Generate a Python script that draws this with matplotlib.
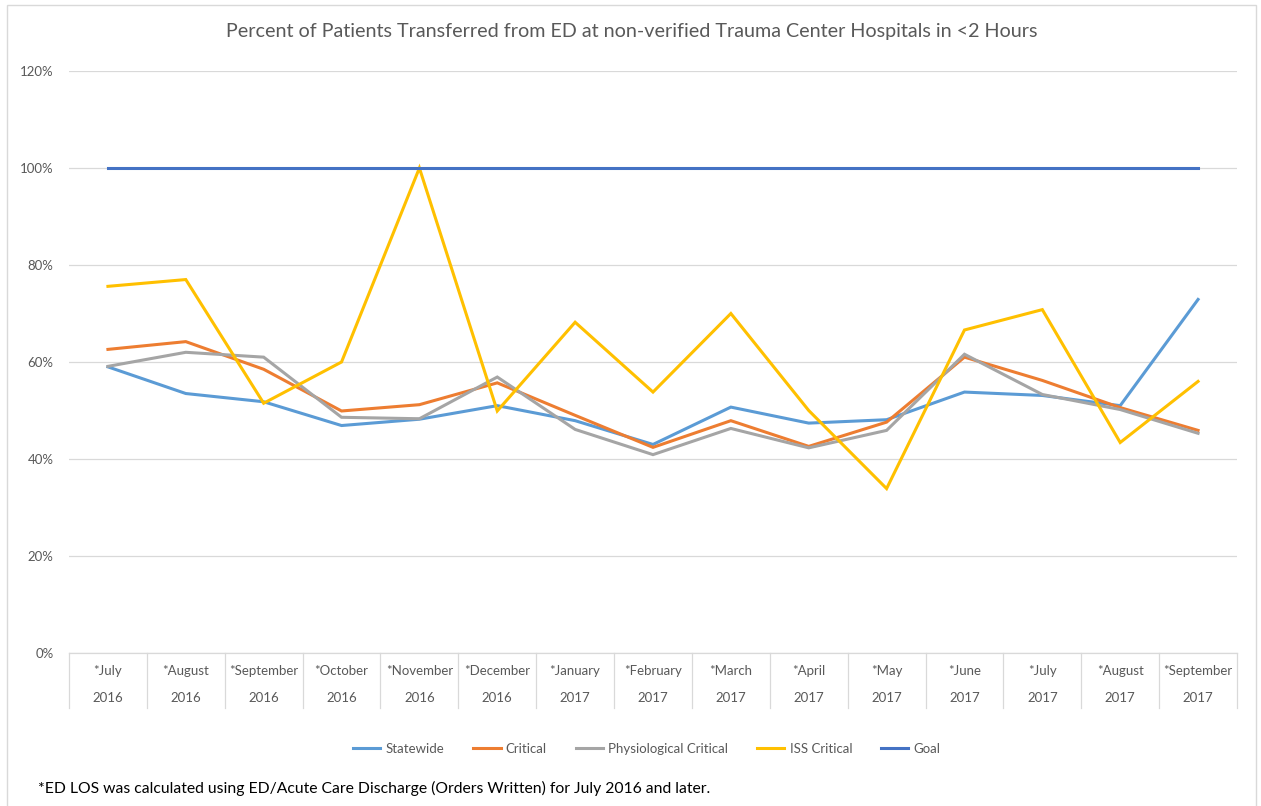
import matplotlib.pyplot as plt
from matplotlib.lines import Line2D
from matplotlib.patches import Rectangle
from matplotlib.ticker import FuncFormatter, MultipleLocator

plt.rcParams["font.family"] = ["Lato", "DejaVu Sans"]

# values (percent)
months = ["*July", "*August", "*September", "*October", "*November", "*December",
          "*January", "*February", "*March", "*April", "*May", "*June",
          "*July", "*August", "*September"]
years = ["2016"] * 6 + ["2017"] * 9
statewide = [59.0, 53.5, 51.8, 46.9, 48.2, 51.0, 47.9, 43.0, 50.7, 47.4, 48.1, 53.8, 53.1, 51.0, 72.9]
critical = [62.6, 64.2, 58.5, 49.9, 51.2, 55.7, 49.0, 42.4, 47.9, 42.6, 47.6, 61.0, 56.2, 50.6, 45.9]
physio = [59.1, 62.0, 61.0, 48.6, 48.3, 56.9, 46.1, 40.9, 46.3, 42.3, 45.9, 61.6, 53.3, 50.2, 45.3]
iss = [75.6, 77.0, 51.5, 60.0, 100.0, 49.9, 68.2, 53.8, 70.0, 50.0, 33.9, 66.6, 70.8, 43.4, 56.0]
goal = [100.0] * 15

series = [
    ("Statewide", statewide, "#5B9BD5"),
    ("Critical", critical, "#ED7D31"),
    ("Physiological Critical", physio, "#A5A5A5"),
    ("ISS Critical", iss, "#FFC000"),
    ("Goal", goal, "#4472C4"),
]

W, H = 1261, 806
fig = plt.figure(figsize=(W / 100, H / 100), dpi=100)

# outer chart border
fig.add_artist(Rectangle((7 / W, -0.01), (1256 - 7) / W, (H - 5) / H + 0.01,
                         transform=fig.transFigure, fill=False,
                         edgecolor="#D9D9D9", linewidth=1.0))

left, right, top, bottom = 69, 1237, 71, 653
ax = fig.add_axes([left / W, (H - bottom) / H, (right - left) / W, (bottom - top) / H])

x = list(range(len(months)))
for name, vals, color in series:
    ax.plot(x, vals, color=color, linewidth=2.2, label=name, solid_joinstyle="miter")

ax.set_xlim(-0.5, len(months) - 0.5)
ax.set_ylim(0, 120)
ax.yaxis.set_major_locator(MultipleLocator(20))
ax.yaxis.set_major_formatter(FuncFormatter(lambda v, _: f"{v:.0f}%"))
ax.yaxis.grid(True, color="#D9D9D9", linewidth=0.9)
ax.set_axisbelow(True)
ax.tick_params(axis="y", length=0, pad=11, labelsize=9.5, labelcolor="#595959")
ax.set_xticks([])
for s in ["top", "right", "left"]:
    ax.spines[s].set_visible(False)
ax.spines["bottom"].set_color("#D9D9D9")
ax.spines["bottom"].set_linewidth(0.9)

# two-level category axis
sep_depth = (708 - 653) / (bottom - top)
trans = ax.get_xaxis_transform()
for i in range(len(months) + 1):
    ax.add_line(Line2D([i - 0.5, i - 0.5], [0, -sep_depth], transform=trans,
                       color="#D9D9D9", linewidth=0.9, clip_on=False))
for i, (m, yr) in enumerate(zip(months, years)):
    ax.text(i, -(671 - 653) / (bottom - top), m, transform=trans, ha="center",
            va="center", fontsize=9.5, color="#595959")
    ax.text(i, -(698 - 653) / (bottom - top), yr, transform=trans, ha="center",
            va="center", fontsize=9.5, color="#595959")

fig.text(632 / W, 1 - 31 / H,
         "Percent of Patients Transferred from ED at non-verified Trauma Center Hospitals in <2 Hours",
         ha="center", va="center", fontsize=14.2, color="#595959")

fig.legend(loc="center", bbox_to_anchor=(647 / W, 1 - 749 / H), ncol=5,
           frameon=False, fontsize=9.5, labelcolor="#595959", handlelength=2.05,
           handletextpad=0.4, columnspacing=2.2)

fig.text(38 / W, 1 - 788 / H,
         "*ED LOS was calculated using ED/Acute Care Discharge (Orders Written) for July 2016 and later.",
         ha="left", va="center", fontsize=11.3, color="black")

fig.savefig("out.png", dpi=100)
